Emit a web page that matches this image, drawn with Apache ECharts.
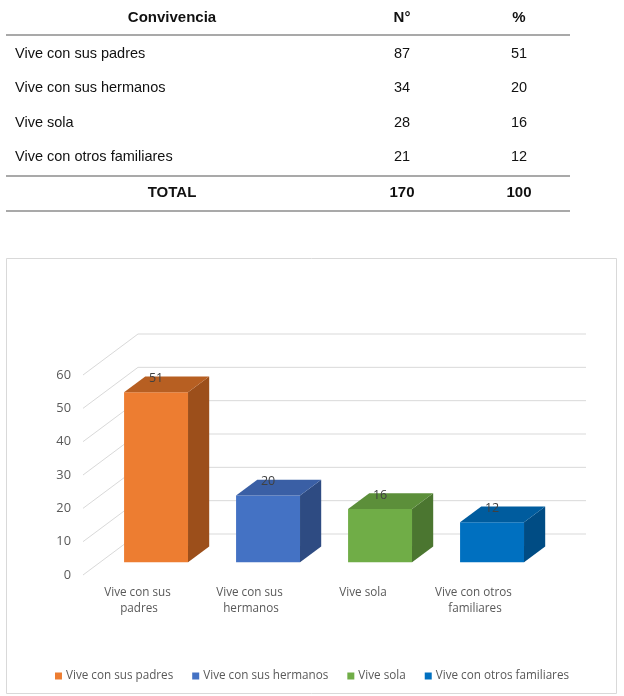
<!DOCTYPE html>
<html><head><meta charset="utf-8">
<script src="https://cdn.jsdelivr.net/npm/echarts@6/dist/echarts.min.js"></script>
<style>html,body{margin:0;padding:0;background:#fff}#c{width:624px;height:696px}</style>
</head><body><div id="c"></div>
<script>
// ---- data ----
const tableHeaders = ['Convivencia', 'N°', '%'];
const categories = ['Vive con sus padres', 'Vive con sus hermanos', 'Vive sola', 'Vive con otros familiares'];
const counts = [87, 34, 28, 21];
const percents = [51, 20, 16, 12];
const totalRow = ['TOTAL', 170, 100];
const yTicks = [0, 10, 20, 30, 40, 50, 60];

// ---- styles ----
const frontColors = ['#ED7D31', '#4472C4', '#70AD47', '#0070C0'];
const topColors   = ['#B75F22', '#3A5FA5', '#5C8F3A', '#005C9E'];
const sideColors  = ['#9C4F1B', '#2E4B82', '#4B7630', '#004C84'];
const D = [55, -41];          // depth projection of the floor (px)
const barFrontFrac = 0.31, barDepthFrac = 0.385, barWidthFrac = 0.571;
const FONT = '"Open Sans", sans-serif';
const TFONT = '"Liberation Sans", Arial, sans-serif';

const chart = echarts.init(document.getElementById('c'));

// table as graphic text
const colX = [172, 402, 519];
const rowY = [54, 88, 123, 157];
const graphics = [];
graphics.push({type:'rect', z:-10, shape:{x:6.5, y:258.5, width:610, height:435}, style:{fill:'#fff', stroke:'#D9D9D9', lineWidth:1}});
tableHeaders.forEach((h, k) => graphics.push({type:'text', x: colX[k], y: 18, style:{text: h, fill:'#111', font:'bold 15px ' + TFONT, textAlign:'center', textVerticalAlign:'middle'}}));
categories.forEach((c, r) => {
  graphics.push({type:'text', x: 15, y: rowY[r], style:{text: c, fill:'#111', font:'14.5px ' + TFONT, textAlign:'left', textVerticalAlign:'middle'}});
  graphics.push({type:'text', x: colX[1], y: rowY[r], style:{text: String(counts[r]), fill:'#111', font:'14.5px ' + TFONT, textAlign:'center', textVerticalAlign:'middle'}});
  graphics.push({type:'text', x: colX[2], y: rowY[r], style:{text: String(percents[r]), fill:'#111', font:'14.5px ' + TFONT, textAlign:'center', textVerticalAlign:'middle'}});
});
totalRow.forEach((t, k) => graphics.push({type:'text', x: colX[k], y: 193, style:{text: String(t), fill:'#111', font:'bold 15px ' + TFONT, textAlign:'center', textVerticalAlign:'middle'}}));
[35, 176, 211].forEach(y => graphics.push({type:'line', shape:{x1:6, y1:y, x2:570, y2:y}, style:{stroke:'#8C8C8C', lineWidth:1.5}}));

function renderWall(params, api) {
  const v = api.value(0);
  const cs = params.coordSys;
  const y = api.coord([0, v])[1];
  const xl = cs.x, xr = cs.x + cs.width;
  return {
    type: 'polyline',
    shape: {points: [[xl, y], [xl + D[0], y + D[1]], [xr + D[0], y + D[1]]]},
    style: {stroke: '#D9D9D9', lineWidth: 1, fill: null},
    silent: true
  };
}

function renderBar(params, api) {
  const i = api.value(0), v = api.value(1);
  const base = api.coord([i, 0]), top = api.coord([i, v]);
  const w = api.size([1, 0])[0] * barWidthFrac;
  const ox = D[0] * barFrontFrac, oy = D[1] * barFrontFrac;
  const dx = D[0] * barDepthFrac, dy = D[1] * barDepthFrac;
  const x0 = base[0] - w / 2 + ox, x1 = base[0] + w / 2 + ox;
  const yb = base[1] + oy, yt = top[1] + oy;
  return {
    type: 'group',
    children: [
      {type:'polygon', shape:{points:[[x0,yt],[x1,yt],[x1,yb],[x0,yb]]}, style:{fill: frontColors[i]}},
      {type:'polygon', shape:{points:[[x1,yt],[x1+dx,yt+dy],[x1+dx,yb+dy],[x1,yb]]}, style:{fill: sideColors[i]}},
      {type:'polygon', shape:{points:[[x0,yt],[x0+dx,yt+dy],[x1+dx,yt+dy],[x1,yt]]}, style:{fill: topColors[i]}},
      {type:'text', x: (x0 + x1) / 2, y: yt - 14, style:{text: String(v), fill:'#404040', font:'12.5px ' + FONT, textAlign:'center', textVerticalAlign:'middle'}}
    ]
  };
}

const series = [{
  type: 'custom', name: '_wall', z: 1, silent: true,
  renderItem: renderWall,
  data: yTicks.map(t => [t])
}];
categories.forEach((c, i) => {
  series.push({
    type: 'custom', name: c, z: 2,
    itemStyle: {color: frontColors[i]},
    renderItem: renderBar,
    encode: {x: 0, y: 1},
    data: [[i, percents[i]]]
  });
});

chart.setOption({
  animation: false,
  backgroundColor: '#fff',
  graphic: graphics,
  grid: {left: 83, width: 448, top: 375, height: 200},
  xAxis: {
    type: 'category', data: categories,
    axisLine: {show: false}, axisTick: {show: false}, splitLine: {show: false},
    axisLabel: {color: '#595959', fontSize: 11.7, fontFamily: FONT, margin: 10, lineHeight: 16, width: 100, overflow: 'break', interval: 0}
  },
  yAxis: {
    type: 'value', min: 0, max: 60, interval: 10,
    axisLine: {show: false}, axisTick: {show: false}, splitLine: {show: false},
    axisLabel: {color: '#595959', fontSize: 12.8, fontFamily: FONT, margin: 12}
  },
  legend: {
    data: categories, left: 'center', top: 665,
    icon: 'rect', itemWidth: 7, itemHeight: 7, itemGap: 19,
    textStyle: {color: '#595959', fontSize: 11.7, fontFamily: FONT, padding: [0, 0, 0, -1]}
  },
  series: series
});
</script></body></html>
